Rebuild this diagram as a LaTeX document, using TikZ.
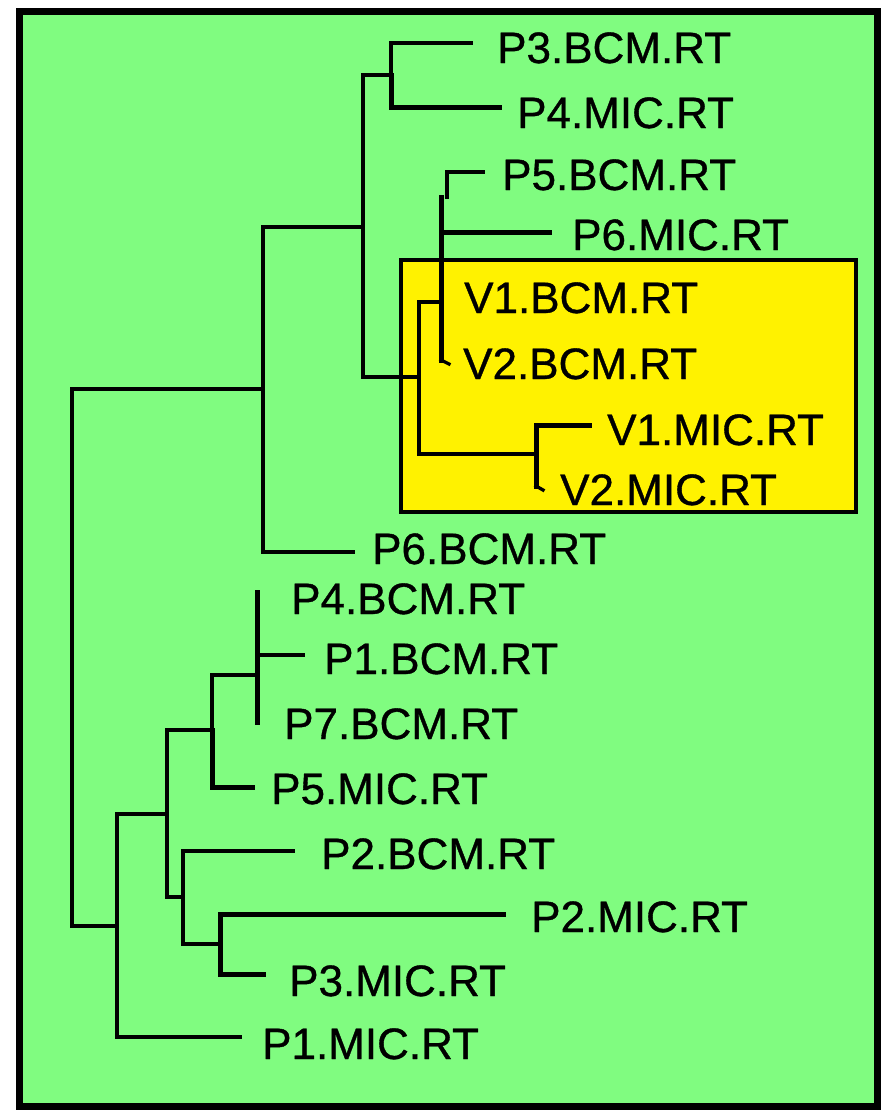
\documentclass[tikz,border=0pt]{standalone}
\usepackage{fontspec}
\setmainfont{Liberation Sans}
\newfontfamily\labelfont{Liberation Sans}[FakeBold=0.8]
\definecolor{bggreen}{RGB}{128,252,128}
\definecolor{boxyellow}{RGB}{255,242,0}
\tikzset{
  branch/.style={line width=3.3pt, line cap=rect, line join=miter},
  heavy/.style={line width=5pt, line cap=rect},
  leaf/.style={anchor=base west, inner sep=0pt, font=\fontsize{44}{44}\labelfont},
}
\begin{document}
\begin{tikzpicture}[x=1pt,y=-1pt]
\useasboundingbox (0,0) rectangle (882,1114);
\fill[white] (0,0) rectangle (882,1114);
% outer frame
\draw[line width=7pt, fill=bggreen] (19,11) rectangle (877,1106);
% highlighted box
\draw[line width=3.8pt, fill=boxyellow] (401,260) rectangle (856,512);

% internal nodes
\coordinate (root) at (72,657);
\coordinate (A) at (263,389);
\coordinate (C) at (363,227);
\coordinate (D) at (391,75);
\coordinate (E) at (419,377);
\coordinate (F) at (441,302);
\coordinate (Ftop) at (441,197);
\coordinate (Fbot) at (441,360);
\coordinate (F5) at (447,197);
\coordinate (G) at (536,454);
\coordinate (Gbot) at (536,486);
\coordinate (B) at (117,926);
\coordinate (H) at (167,814);
\coordinate (I) at (212,730);
\coordinate (K) at (257,675);
\coordinate (Ktop) at (257,592);
\coordinate (Kbot) at (257,722);
\coordinate (J) at (183,897);
\coordinate (L) at (220,944);

% branch tips
\coordinate (tP3B) at (471,43);
\coordinate (tP4M) at (499,107);
\coordinate (tP5B) at (483,172);
\coordinate (tP6M) at (549,232);
\coordinate (tV2B) at (449,364);
\coordinate (tV1M) at (589,425);
\coordinate (tV2M) at (543,490);
\coordinate (tP6B) at (353,552);
\coordinate (tP1B) at (303,655);
\coordinate (tP5M) at (252,787);
\coordinate (tP2B) at (293,851);
\coordinate (tP2M) at (503,914);
\coordinate (tP3M) at (263,974);
\coordinate (tP1M) at (240,1037);

% tree
\draw[branch] (root) |- (A);
\draw[branch] (root) |- (B);
\draw[branch] (A) |- (C);
\draw[branch] (A) |- (tP6B);
\draw[branch] (C) |- (D);
\draw[branch] (C) |- (E);
\draw[branch] (D) |- (tP3B);
\draw[heavy] (D) |- (tP4M);
\draw[branch] (E) |- (F);
\draw[branch] (E) |- (G);
\draw[heavy] (Ftop) -- (Fbot);
\draw[branch] (Fbot) -- (tV2B);
\draw[branch] (F5) |- (tP5B);
\draw[heavy] (F) |- (tP6M);
\draw[heavy] (G) |- (tV1M);
\draw[heavy] (G) -- (Gbot);
\draw[branch] (Gbot) -- (tV2M);
\draw[branch] (B) |- (H);
\draw[branch] (B) |- (tP1M);
\draw[branch] (H) |- (I);
\draw[branch] (H) |- (J);
\draw[branch] (I) |- (K);
\draw[heavy] (I) |- (tP5M);
\draw[heavy] (Ktop) -- (Kbot);
\draw[branch] (K) |- (tP1B);
\draw[branch] (J) |- (tP2B);
\draw[branch] (J) |- (L);
\draw[heavy] (L) |- (tP2M);
\draw[heavy] (L) |- (tP3M);

% labels
\node[leaf] (lP3B) at (497,63) {P3.BCM.RT};
\node[leaf] (lP4M) at (517,128) {P4.MIC.RT};
\node[leaf] (lP5B) at (502,190) {P5.BCM.RT};
\node[leaf] (lP6M) at (572,250) {P6.MIC.RT};
\node[leaf] (lV1B) at (464,313) {V1.BCM.RT};
\node[leaf] (lV2B) at (463,379) {V2.BCM.RT};
\node[leaf] (lV1M) at (607,445) {V1.MIC.RT};
\node[leaf] (lV2M) at (560,505) {V2.MIC.RT};
\node[leaf] (lP6B) at (372,564) {P6.BCM.RT};
\node[leaf] (lP4B) at (291,614) {P4.BCM.RT};
\node[leaf] (lP1B) at (324,674) {P1.BCM.RT};
\node[leaf] (lP7B) at (284,739) {P7.BCM.RT};
\node[leaf] (lP5M) at (271,804) {P5.MIC.RT};
\node[leaf] (lP2B) at (321,869) {P2.BCM.RT};
\node[leaf] (lP2M) at (531,932) {P2.MIC.RT};
\node[leaf] (lP3M) at (289,996) {P3.MIC.RT};
\node[leaf] (lP1M) at (262,1059) {P1.MIC.RT};
\end{tikzpicture}
\end{document}
